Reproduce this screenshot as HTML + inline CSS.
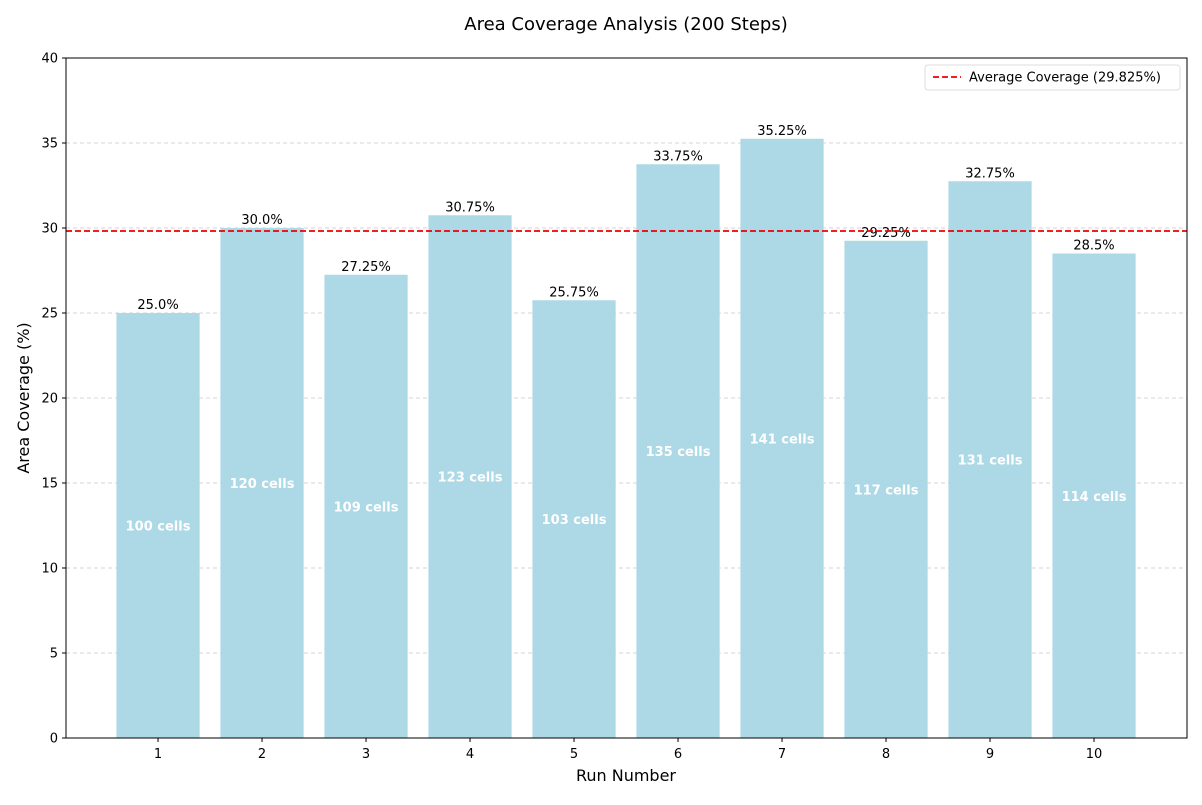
<!DOCTYPE html>
<html><head><meta charset="utf-8"><style>
body{margin:0;background:#fff;font-family:"Liberation Sans","DejaVu Sans",sans-serif;}
</style></head><body>
<svg id="chart" width="1202" height="800" xmlns="http://www.w3.org/2000/svg" font-family="'DejaVu Sans','Liberation Sans',sans-serif">
<text x="626" y="30" font-size="18" text-anchor="middle">Area Coverage Analysis (200 Steps)</text>
<g id="grid"></g>
<g id="bars"></g>
<g id="axes"></g>
<text x="626" y="781" font-size="16" text-anchor="middle">Run Number</text>
<text x="29" y="398" font-size="16" text-anchor="middle" transform="rotate(-90 29 398)">Area Coverage (%)</text>
</svg>
<script>
const runs = [1,2,3,4,5,6,7,8,9,10];
const coverage = [25.0,30.0,27.25,30.75,25.75,33.75,35.25,29.25,32.75,28.5];
const cells = [100,120,109,123,103,135,141,117,131,114];
const valueLabels = ["25.0%","30.0%","27.25%","30.75%","25.75%","33.75%","35.25%","29.25%","32.75%","28.5%"];
const yTicks = [0,5,10,15,20,25,30,35,40];
const average = 29.825;

const NS="http://www.w3.org/2000/svg";
const L=66,R=1187,T=58,B=738;
const xMin=0.115,xMax=10.894,yMin=0,yMax=40;
const xs=v=>L+(v-xMin)/(xMax-xMin)*(R-L);
const ys=v=>B-(v-yMin)/(yMax-yMin)*(B-T);
function mk(tag,attrs,parent,text){const e=document.createElementNS(NS,tag);for(const k in attrs)e.setAttribute(k,attrs[k]);if(text!==undefined)e.textContent=text;parent.appendChild(e);return e;}
const grid=document.getElementById('grid'),bars=document.getElementById('bars'),axes=document.getElementById('axes');
yTicks.forEach(t=>{
  const y=ys(t);
  if(t>0&&t<40){const g=mk('line',{x1:L,x2:R,y1:y,y2:y,stroke:'#c8c8c8','stroke-dasharray':'4,3','stroke-width':0.8},grid);
  
  }
  const tk=mk('line',{x1:L-4,x2:L,y1:y,y2:y,stroke:'#000'},axes);
  
  
  const lb=mk('text',{x:L-8,y:y+4.5,'font-size':13,'text-anchor':'end'},axes,String(t));
  
  
});
const bw=(xs(1.4)-xs(0.6));
runs.forEach((r,i)=>{
  const x=xs(r),y=ys(coverage[i]);
  const b=mk('rect',{x:x-bw/2,y:y,width:bw,height:ys(0)-y,fill:'#add8e6'},bars);
  
  
  const v=mk('text',{x:x,y:y-4,'font-size':13,'text-anchor':'middle'},bars,valueLabels[i]);
  
  
  const c=mk('text',{x:x,y:ys(coverage[i]/2)+5,'font-size':13,'font-weight':'bold',fill:'#fff','text-anchor':'middle'},bars,cells[i]+' cells');
  
  
  const tk=mk('line',{x1:x,x2:x,y1:B,y2:B+4,stroke:'#000'},axes);
  
  
  const lb=mk('text',{x:x,y:B+20,'font-size':13,'text-anchor':'middle'},axes,String(r));
  
  
});
const av=mk('line',{x1:L,x2:R,y1:ys(average),y2:ys(average),stroke:'#e00','stroke-width':1.8,'stroke-dasharray':'6,3'},bars);


const fr=mk('rect',{x:L,y:T,width:R-L,height:B-T,fill:'none',stroke:'#000','stroke-width':1},axes);


const lg=mk('g',{},axes);


mk('rect',{x:925,y:65,width:255,height:25,rx:3,fill:'#fff',stroke:'#ddd'},lg);
mk('line',{x1:933,x2:961,y1:77,y2:77,stroke:'#e00','stroke-width':1.8,'stroke-dasharray':'6,3'},lg);
const lt=mk('text',{x:969,y:81.5,'font-size':13},lg,'Average Coverage ('+average+'%)');


</script>
</body></html>
